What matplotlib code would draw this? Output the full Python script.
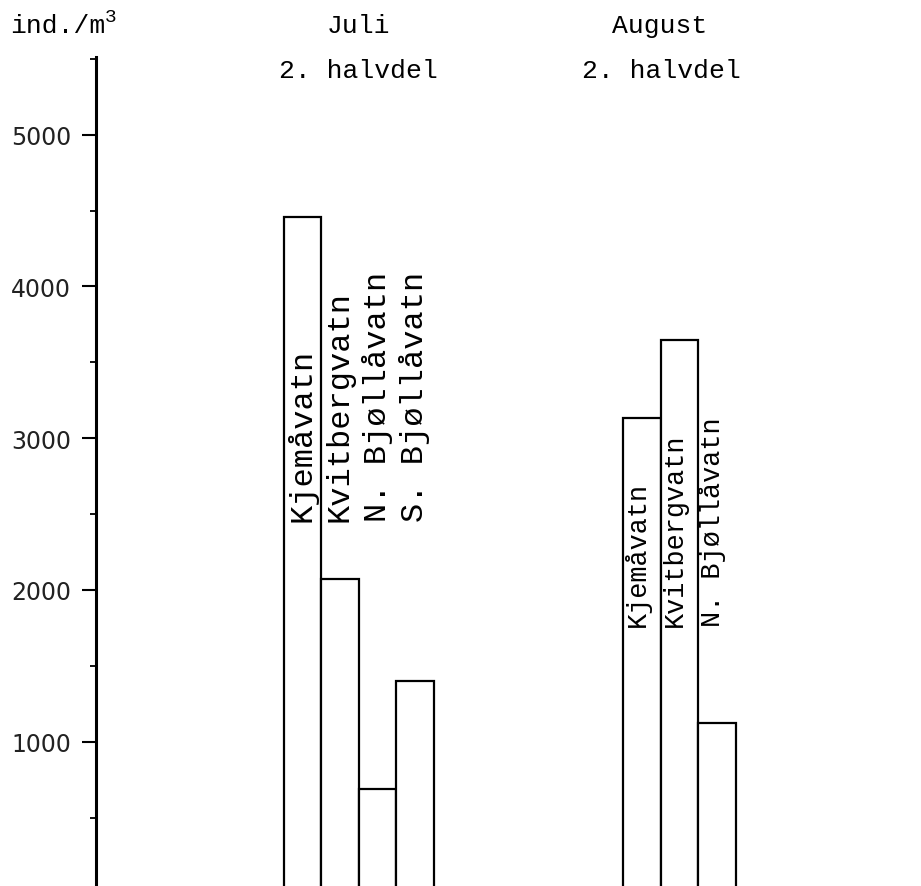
#!/usr/bin/env python3
import matplotlib
matplotlib.use("Agg")
import matplotlib.pyplot as plt
from matplotlib.ticker import MultipleLocator

# ind./m3 per lake, second half of July and August
juli_lakes = ["Kjemåvatn", "Kvitbergvatn", "N. Bjøllåvatn", "S. Bjøllåvatn"]
juli_values = [4460, 2070, 690, 1400]
aug_lakes = ["Kjemåvatn", "Kvitbergvatn", "N. Bjøllåvatn"]
aug_values = [3130, 3650, 1120]
yticks = [1000, 2000, 3000, 4000, 5000]

mono = "Liberation Mono"


def draw_group(ax, start, lakes, values, label_y, size, shift):
    xs = [start + i + 0.5 for i in range(len(values))]
    ax.bar(xs, values, width=1.0, bottom=0, color="white",
           edgecolor="black", linewidth=1.6, zorder=2)
    for x, name in zip(xs, lakes):
        ax.text(x + shift, label_y, name, rotation=90, ha="center",
                va="bottom", family=mono, fontsize=size, zorder=3)


fig = plt.figure(figsize=(9.21, 8.87), dpi=100)
ax = fig.add_axes([96 / 921, 0, 1 - 96 / 921, 829 / 887])

draw_group(ax, 5.0, juli_lakes, juli_values, 2455, 23, 0.0)
draw_group(ax, 14.06, aug_lakes, aug_values, 1760, 19.4, -0.13)

ax.set_xlim(0, 22.0)
ax.set_ylim(49, 5512)
ax.set_xticks([])
ax.set_yticks(yticks)
ax.set_yticklabels([str(v) for v in yticks])
ax.yaxis.set_minor_locator(MultipleLocator(500))
ax.tick_params(axis="y", which="major", length=10, width=1.5, pad=8,
               labelsize=17, labelcolor="#222222", direction="out")
ax.tick_params(axis="y", which="minor", length=4.5, width=1.3,
               direction="out")
for side in ["top", "right", "bottom"]:
    ax.spines[side].set_visible(False)
ax.spines["left"].set_linewidth(2.2)

# unit label, superscript 3 drawn as its own small text
fig.text(10 / 921, 1 - 33 / 887, "ind./m", family=mono, fontsize=19,
         va="baseline", ha="left")
fig.text(105 / 921, 1 - 22 / 887, "3", family=mono, fontsize=14,
         va="baseline", ha="left")
fig.text(358 / 921, 1 - 33 / 887, "Juli", family=mono, fontsize=19,
         va="baseline", ha="center")
fig.text(358 / 921, 1 - 78 / 887, "2. halvdel", family=mono, fontsize=19,
         va="baseline", ha="center")
fig.text(660 / 921, 1 - 33 / 887, "August", family=mono, fontsize=19,
         va="baseline", ha="center")
fig.text(661 / 921, 1 - 78 / 887, "2. halvdel", family=mono, fontsize=19,
         va="baseline", ha="center")

fig.savefig("out.png", dpi=100)
